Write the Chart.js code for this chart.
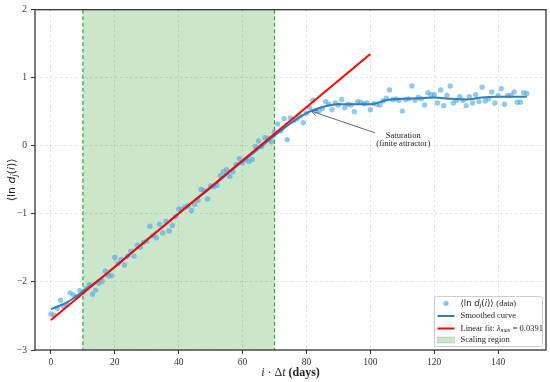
<!DOCTYPE html>
<html><head><meta charset="utf-8">
<script src="https://cdn.jsdelivr.net/npm/chart.js@4/dist/chart.umd.min.js"></script>
<style>html,body{margin:0;padding:0;background:#fff}canvas{display:block}</style>
</head><body>
<canvas id="c" width="550" height="382"></canvas>
<script>
// ---- data ----
const days = [
  0,1,2,3,4,5,6,7,8,9,10,11,12,13,14,15,16,17,18,19,
  20,21,22,23,24,25,26,27,28,29,30,31,32,33,34,35,36,37,38,39,
  40,41,42,43,44,45,46,47,48,49,50,51,52,53,54,55,56,57,58,59,
  60,61,62,63,64,65,66,67,68,69,70,71,72,73,74,75,76,77,78,79,
  80,81,82,83,84,85,86,87,88,89,90,91,92,93,94,95,96,97,98,99,
  100,101,102,103,104,105,106,107,108,109,110,111,112,113,114,115,116,117,118,119,
  120,121,122,123,124,125,126,127,128,129,130,131,132,133,134,135,136,137,138,139,
  140,141,142,143,144,145,146,147,148,149];
const lnD = [
  -2.47,-2.49,-2.39,-2.27,-2.37,-2.34,-2.16,-2.19,-2.22,-2.13,
  -2.15,-2.10,-2.04,-2.18,-2.12,-2.02,-1.99,-1.84,-1.91,-1.91,
  -1.64,-1.73,-1.67,-1.75,-1.62,-1.55,-1.62,-1.46,-1.49,-1.42,
  -1.40,-1.18,-1.32,-1.35,-1.15,-1.28,-1.11,-1.25,-1.17,-1.04,
  -0.93,-0.93,-0.90,-0.88,-0.95,-0.86,-0.80,-0.64,-0.66,-0.78,
  -0.59,-0.60,-0.58,-0.44,-0.38,-0.35,-0.45,-0.38,-0.27,-0.19,
  -0.25,-0.20,-0.23,-0.20,-0.01,0.07,-0.01,0.12,0.11,0.06,
  0.20,0.32,0.22,0.40,0.09,0.41,0.37,0.40,0.44,0.34,
  0.48,0.56,0.67,0.51,0.51,0.55,0.65,0.61,0.53,0.63,
  0.60,0.68,0.56,0.61,0.60,0.50,0.65,0.64,0.62,0.63,
  0.53,0.62,0.61,0.60,0.66,0.70,0.82,0.68,0.69,0.67,
  0.51,0.68,0.69,0.88,0.67,0.71,0.69,0.60,0.78,0.75,
  0.75,0.63,0.82,0.59,0.74,0.88,0.63,0.67,0.72,0.67,
  0.59,0.72,0.63,0.75,0.65,0.86,0.66,0.69,0.79,0.63,
  0.74,0.84,0.61,0.74,0.74,0.79,0.64,0.64,0.78,0.77];
const smoothX = [0,5,10,15,20,25,30,35,40,45,50,55,60,65,70,75,80,85,90,95,100,105,110,115,120,125,130,135,140,145,149];
const smoothY = [-2.40,-2.30,-2.14,-1.97,-1.78,-1.58,-1.38,-1.19,-0.99,-0.80,-0.62,-0.42,-0.23,-0.04,0.15,0.33,0.48,0.57,0.61,0.61,0.61,0.67,0.69,0.70,0.71,0.69,0.68,0.71,0.72,0.72,0.72];
const fitX = [0, 100];
const fitY = [-2.56, 1.35];
const scalingRegion = [10, 70];
const xTicks = [0,20,40,60,80,100,120,140];
const yTicks = [-3,-2,-1,0,1,2];
const legendLabels = ['(data)', 'Smoothed curve', 'Linear fit: ', 'Scaling region'];
const lambdaMax = '0.0391';
const annotationText = ['Saturation', '(finite attractor)'];
const xTitle = ['i', ' \u00b7 \u0394', 't', ' (days)'];

// ---- helpers ----
function runs(ctx, parts, x, y, align) {
  let total = 0;
  parts.forEach(r => { ctx.font = r.f; r.w = ctx.measureText(r.t).width; total += r.w; });
  let cx = align === 'center' ? x - total / 2 : x;
  parts.forEach(r => { ctx.font = r.f; ctx.fillText(r.t, cx, y + (r.dy || 0)); cx += r.w; });
}
const SANS = '"DejaVu Sans"';
const SERIF = '"Liberation Serif"';

const deco = {
  id: 'deco',
  beforeDatasetsDraw(c) {
    const ctx = c.ctx, a = c.chartArea, x = c.scales.x;
    const x0 = x.getPixelForValue(scalingRegion[0]), x1 = x.getPixelForValue(scalingRegion[1]);
    ctx.save();
    ctx.fillStyle = 'rgba(0,128,0,0.2)';
    ctx.fillRect(x0, a.top, x1 - x0, a.bottom - a.top);
    ctx.strokeStyle = 'rgba(20,150,20,0.85)';
    ctx.lineWidth = 1.2;
    ctx.setLineDash([4, 2.5]);
    [x0, x1].forEach(p => { ctx.beginPath(); ctx.moveTo(p, a.top); ctx.lineTo(p, a.bottom); ctx.stroke(); });
    ctx.restore();
  },
  afterDatasetsDraw(c) {
    const ctx = c.ctx, a = c.chartArea, sx = c.scales.x, sy = c.scales.y;
    ctx.save();
    // annotation arrow
    const hx = sx.getPixelForValue(81.5), hy = sy.getPixelForValue(0.51);
    const tx = sx.getPixelForValue(101.5), ty = sy.getPixelForValue(0.19);
    ctx.strokeStyle = '#666'; ctx.lineWidth = 1;
    ctx.beginPath(); ctx.moveTo(tx, ty); ctx.lineTo(hx, hy); ctx.stroke();
    const ang = Math.atan2(hy - ty, hx - tx), L = 6;
    ctx.beginPath();
    ctx.moveTo(hx - L * Math.cos(ang - 0.45), hy - L * Math.sin(ang - 0.45));
    ctx.lineTo(hx, hy);
    ctx.lineTo(hx - L * Math.cos(ang + 0.45), hy - L * Math.sin(ang + 0.45));
    ctx.stroke();
    ctx.fillStyle = '#222'; ctx.textBaseline = 'middle'; ctx.textAlign = 'left';
    const ax = sx.getPixelForValue(110.3);
    runs(ctx, [{t: annotationText[0], f: '8.5px ' + SERIF}], ax, sy.getPixelForValue(0.147), 'center');
    runs(ctx, [{t: annotationText[1], f: '8.5px ' + SERIF}], ax, sy.getPixelForValue(0.034), 'center');
    ctx.restore();
  },
  afterDraw(c) {
    const ctx = c.ctx, a = c.chartArea;
    ctx.save();
    // frame
    ctx.strokeStyle = '#333'; ctx.lineWidth = 1.3;
    ctx.strokeRect(a.left, a.top, a.right - a.left, a.bottom - a.top);
    // legend
    const lx = a.right - 111.5, ly = a.bottom - 53.5, lw = 108, lh = 50;
    ctx.fillStyle = 'rgba(255,255,255,0.85)';
    ctx.strokeStyle = '#cccccc'; ctx.lineWidth = 1;
    ctx.beginPath(); ctx.roundRect(lx, ly, lw, lh, 2); ctx.fill(); ctx.stroke();
    const hx0 = lx + 3, hx1 = lx + 20, tx = lx + 26;
    const rows = [ly + 6.8, ly + 19.5, ly + 32, ly + 43.5];
    ctx.fillStyle = 'rgba(74,160,220,0.65)';
    ctx.beginPath(); ctx.arc((hx0 + hx1) / 2, rows[0], 2.6, 0, Math.PI * 2); ctx.fill();
    ctx.strokeStyle = '#2c7fb8'; ctx.lineWidth = 2;
    ctx.beginPath(); ctx.moveTo(hx0, rows[1]); ctx.lineTo(hx1, rows[1]); ctx.stroke();
    ctx.strokeStyle = '#ff0000';
    ctx.beginPath(); ctx.moveTo(hx0, rows[2]); ctx.lineTo(hx1, rows[2]); ctx.stroke();
    ctx.fillStyle = 'rgba(0,128,0,0.2)'; ctx.strokeStyle = 'rgba(0,128,0,0.2)'; ctx.lineWidth = 1;
    ctx.fillRect(hx0, rows[3] - 3, hx1 - hx0, 6); ctx.strokeRect(hx0, rows[3] - 3, hx1 - hx0, 6);
    ctx.fillStyle = '#222'; ctx.textBaseline = 'middle'; ctx.textAlign = 'left';
    const fs = 8.5, sf = fs + 'px ' + SERIF, mf = fs + 'px ' + SANS, mi = 'italic ' + fs + 'px ' + SANS;
    runs(ctx, [{t: '\u27e8ln ', f: mf}, {t: 'd', f: mi}, {t: 'j', f: 'italic 6px ' + SANS, dy: 2}, {t: '(', f: mf}, {t: 'i', f: mi}, {t: ')\u27e9 ', f: mf}, {t: legendLabels[0], f: sf}], tx, rows[0]);
    runs(ctx, [{t: legendLabels[1], f: sf}], tx, rows[1]);
    runs(ctx, [{t: legendLabels[2], f: sf}, {t: '\u03bb', f: 'italic ' + fs + 'px ' + SERIF}, {t: 'max', f: 'italic 6px ' + SERIF, dy: 2}, {t: ' = ' + lambdaMax, f: sf}], tx, rows[2]);
    runs(ctx, [{t: legendLabels[3], f: sf}], tx, rows[3]);
    // axis titles
    ctx.fillStyle = '#222';
    const cx = (a.left + a.right) / 2;
    runs(ctx, [{t: xTitle[0], f: 'italic 12px ' + SERIF}, {t: xTitle[1], f: '12px ' + SERIF}, {t: xTitle[2], f: 'italic 12px ' + SERIF}, {t: xTitle[3], f: 'bold 12px ' + SERIF}], cx, 372.5, 'center');
    ctx.translate(12, (a.top + a.bottom) / 2);
    ctx.rotate(-Math.PI / 2);
    runs(ctx, [{t: '\u27e8ln ', f: '11px ' + SANS}, {t: 'd', f: 'italic 11px ' + SANS}, {t: 'j', f: 'italic 8px ' + SANS, dy: 2.5}, {t: '(', f: '11px ' + SANS}, {t: 'i', f: 'italic 11px ' + SANS}, {t: ')\u27e9', f: '11px ' + SANS}], 0, 0, 'center');
    ctx.restore();
  }
};

const tickFont = {family: 'Liberation Serif', size: 9.5};
const gridOpts = {color: 'rgba(0,0,0,0.14)', lineWidth: 0.8, tickColor: '#333', tickWidth: 1, tickLength: 4};

new Chart(document.getElementById('c'), {
  type: 'scatter',
  data: {
    datasets: [
      {type: 'scatter', data: days.map((d, i) => ({x: d, y: lnD[i]})), backgroundColor: 'rgba(80,165,222,0.62)', borderWidth: 0, pointRadius: 2.7, order: 3},
      {type: 'line', data: smoothX.map((d, i) => ({x: d, y: smoothY[i]})), borderColor: '#2c7fb8', borderWidth: 2, pointRadius: 0, cubicInterpolationMode: 'monotone', fill: false, order: 2},
      {type: 'line', data: fitX.map((d, i) => ({x: d, y: fitY[i]})), borderColor: '#ff0000', borderWidth: 2, pointRadius: 0, fill: false, order: 1}
    ]
  },
  options: {
    responsive: false, animation: false, devicePixelRatio: 1,
    layout: {padding: {top: 9, right: 4, left: 0, bottom: 0}},
    plugins: {legend: {display: false}, tooltip: {enabled: false}},
    scales: {
      x: {type: 'linear', min: -5, max: 155,
        afterBuildTicks: s => { s.ticks = xTicks.map(v => ({value: v})); },
        afterFit: s => { s.height = 32; },
        grid: gridOpts, border: {display: false, dash: [2.5, 2.5]},
        ticks: {font: tickFont, color: '#333', padding: 3, maxRotation: 0, autoSkip: false}},
      y: {type: 'linear', min: -3, max: 2,
        afterBuildTicks: s => { s.ticks = yTicks.map(v => ({value: v})); },
        afterFit: s => { s.width = 35; },
        grid: gridOpts, border: {display: false, dash: [2.5, 2.5]},
        ticks: {font: tickFont, color: '#333', padding: 4, autoSkip: false,
          callback: v => v < 0 ? '\u2212' + Math.abs(v) : String(v)}}
    }
  },
  plugins: [deco]
});
</script>
</body></html>
